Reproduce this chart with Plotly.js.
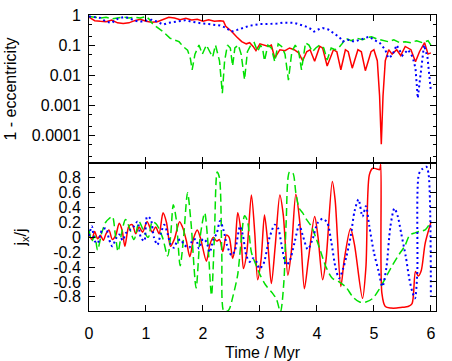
<!DOCTYPE html>
<html>
<head>
<meta charset="utf-8">
<script src="https://cdn.plot.ly/plotly-3.0.1.min.js"></script>
<style>
  html, body { margin: 0; padding: 0; background: #fff; }
  #chart { width: 452px; height: 361px; }
</style>
</head>
<body>
<div id="chart"></div>
<script>
// ---- top panel: 1 - eccentricity (log) ----
const tRedTop = [0.00,0.05,0.10,0.20,0.30,0.40,0.50,0.60,0.70,0.80,0.90,1.00,1.10,1.20,1.30,1.40,1.50,1.60,1.70,1.80,1.90,2.00,2.10,2.20,2.30,2.36,2.40,2.50,2.59,2.68,2.76,2.82,2.88,2.93,3.00,3.08,3.15,3.20,3.26,3.35,3.44,3.52,3.60,3.68,3.75,3.82,3.88,3.96,4.05,4.10,4.18,4.29,4.35,4.42,4.50,4.55,4.62,4.72,4.78,4.85,4.95,5.00,5.06,5.10,5.13,5.16,5.20,5.26,5.32,5.40,5.47,5.55,5.65,5.73,5.80,5.89,5.95,6.00];
const redTop = [0.85,0.75,0.65,0.62,0.60,0.68,0.55,0.52,0.55,0.65,0.72,0.62,0.58,0.60,0.72,0.85,0.80,0.70,0.78,0.68,0.72,0.62,0.70,0.62,0.65,0.62,0.42,0.29,0.19,0.13,0.11,0.12,0.09,0.065,0.11,0.10,0.09,0.10,0.037,0.07,0.065,0.08,0.07,0.055,0.03,0.06,0.07,0.029,0.09,0.08,0.02,0.07,0.06,0.015,0.07,0.06,0.017,0.07,0.06,0.014,0.06,0.07,0.03,0.002,0.00005,0.002,0.03,0.07,0.05,0.07,0.045,0.09,0.07,0.028,0.06,0.12,0.05,0.055];

const tGreenTop = [0.00,0.10,0.20,0.30,0.40,0.50,0.60,0.70,0.80,0.90,1.00,1.05,1.10,1.18,1.30,1.42,1.50,1.58,1.65,1.73,1.78,1.81,1.86,1.93,1.99,2.06,2.12,2.17,2.22,2.29,2.34,2.38,2.43,2.48,2.52,2.56,2.62,2.67,2.73,2.78,2.84,2.90,2.96,3.01,3.05,3.08,3.14,3.20,3.26,3.32,3.38,3.44,3.50,3.56,3.62,3.68,3.73,3.80,3.86,3.92,3.98,4.05,4.12,4.18,4.25,4.32,4.38,4.45,4.50,4.60,4.70,4.80,4.90,4.96,5.05,5.15,5.25,5.35,5.45,5.55,5.65,5.75,5.85,5.95,6.00];
const greenTop = [0.9,0.85,0.8,0.85,0.75,0.8,0.85,0.8,0.85,0.8,0.9,0.75,0.55,0.41,0.28,0.17,0.15,0.13,0.09,0.068,0.035,0.015,0.05,0.1,0.05,0.1,0.06,0.04,0.1,0.03,0.0025,0.03,0.1,0.08,0.02,0.08,0.1,0.05,0.007,0.06,0.1,0.12,0.06,0.1,0.07,0.03,0.1,0.08,0.028,0.11,0.09,0.05,0.0068,0.06,0.1,0.06,0.015,0.12,0.1,0.06,0.08,0.1,0.08,0.032,0.08,0.07,0.08,0.116,0.17,0.14,0.17,0.15,0.18,0.19,0.16,0.14,0.13,0.15,0.12,0.13,0.12,0.14,0.12,0.14,0.1];

const tBlueTop = [0.00,0.10,0.20,0.30,0.40,0.50,0.60,0.70,0.80,0.90,1.00,1.10,1.20,1.30,1.40,1.50,1.60,1.70,1.80,1.90,2.00,2.10,2.20,2.30,2.40,2.50,2.60,2.70,2.80,2.90,3.00,3.10,3.20,3.30,3.40,3.50,3.60,3.70,3.80,3.90,3.95,4.05,4.10,4.20,4.30,4.40,4.45,4.55,4.65,4.75,4.85,4.92,5.00,5.10,5.20,5.25,5.32,5.40,5.50,5.60,5.68,5.73,5.77,5.82,5.88,5.94,6.00];
const blueTop = [0.9,0.85,0.8,0.6,0.55,0.75,0.85,0.8,0.65,0.6,0.65,0.7,0.6,0.48,0.55,0.6,0.65,0.68,0.6,0.55,0.52,0.5,0.48,0.45,0.38,0.28,0.32,0.38,0.43,0.47,0.5,0.5,0.5,0.52,0.56,0.57,0.55,0.48,0.42,0.34,0.28,0.35,0.37,0.33,0.24,0.18,0.13,0.15,0.13,0.15,0.17,0.19,0.15,0.12,0.07,0.037,0.045,0.1,0.045,0.07,0.04,0.017,0.0017,0.01,0.1,0.04,0.003];

// ---- bottom panel: j_x / j ----
const tRedBot = [0.00,0.05,0.10,0.15,0.20,0.25,0.30,0.35,0.41,0.47,0.53,0.58,0.63,0.70,0.76,0.82,0.88,0.94,1.02,1.11,1.17,1.23,1.30,1.36,1.43,1.50,1.59,1.65,1.71,1.77,1.84,1.90,1.96,2.06,2.12,2.18,2.24,2.29,2.35,2.41,2.46,2.52,2.56,2.61,2.66,2.71,2.77,2.85,2.91,2.96,3.02,3.08,3.14,3.20,3.27,3.35,3.41,3.49,3.55,3.63,3.70,3.78,3.85,3.96,4.02,4.10,4.16,4.27,4.32,4.42,4.48,4.59,4.66,4.80,4.86,4.92,4.98,5.05,5.10,5.12,5.14,5.20,5.30,5.40,5.50,5.60,5.67,5.73,5.78,5.83,5.90,6.00];
const redBot = [0.05,-0.03,0.08,-0.02,0.03,-0.04,0.05,0.10,-0.03,0.03,0.19,0.10,-0.12,0.15,0.17,0.05,0.14,0.07,0.21,0.07,0.14,0.05,0.33,0.20,-0.12,-0.02,0.21,0.12,-0.05,-0.26,0.0,0.1,-0.02,-0.32,-0.1,0.0,-0.05,-0.03,-0.19,0.03,0.0,-0.28,-0.15,0.33,0.12,-0.42,-0.2,0.57,0.05,-0.57,-0.3,0.30,-0.1,-0.62,-0.1,0.57,0.3,-0.51,-0.2,0.58,0.2,-0.69,-0.3,0.28,0.0,-0.57,-0.3,0.75,0.5,-0.66,-0.3,0.12,-0.1,-0.82,-0.4,0.84,0.93,0.92,0.91,0.98,-0.75,-0.93,-0.95,-0.95,-0.94,-0.93,-0.89,-0.46,-0.52,-0.45,-0.08,0.2];

const tGreenBot = [0.00,0.05,0.10,0.15,0.22,0.29,0.35,0.41,0.46,0.51,0.57,0.64,0.70,0.79,0.88,0.95,1.04,1.11,1.18,1.29,1.38,1.43,1.48,1.53,1.60,1.66,1.73,1.79,1.88,1.95,2.03,2.08,2.15,2.20,2.25,2.29,2.33,2.37,2.45,2.53,2.61,2.67,2.73,2.78,2.85,2.92,3.00,3.10,3.22,3.29,3.36,3.42,3.46,3.52,3.58,3.63,3.69,3.75,3.81,3.90,3.98,4.07,4.16,4.27,4.39,4.51,4.63,4.75,4.86,4.98,5.10,5.20,5.33,5.45,5.54,5.63,5.72,5.80,5.90,5.97,6.00];
const greenBot = [0.10,-0.05,0.02,-0.17,0.05,0.2,0.25,0.28,0.05,-0.19,0.05,0.24,0.15,-0.03,0.21,0.1,0.0,0.21,0.18,0.0,-0.25,0.0,0.44,0.25,-0.38,0.0,0.6,0.2,-0.68,0.0,0.33,0.0,-0.78,0.0,0.88,0.8,-0.2,-1.0,-0.98,-0.78,-0.5,-0.05,0.29,0.22,-0.2,-0.35,-0.5,-0.64,-0.75,-0.83,-1.0,-0.6,0.2,0.88,0.86,0.6,0.39,0.33,0.25,0.15,0.0,-0.2,-0.4,-0.55,-0.6,-0.67,-0.8,-0.87,-0.87,-0.82,-0.69,-0.55,-0.37,-0.22,-0.12,0.03,0.06,0.08,0.1,0.17,0.21];

const tBlueBot = [0.00,0.05,0.10,0.15,0.23,0.30,0.35,0.41,0.47,0.53,0.59,0.65,0.72,0.79,0.85,0.91,0.97,1.02,1.08,1.14,1.20,1.26,1.32,1.38,1.43,1.49,1.55,1.61,1.67,1.76,1.82,1.88,1.93,2.00,2.06,2.12,2.18,2.24,2.30,2.36,2.42,2.50,2.56,2.65,2.70,2.76,2.82,2.88,2.94,2.99,3.06,3.17,3.26,3.32,3.38,3.46,3.52,3.61,3.69,3.75,3.84,3.93,4.01,4.10,4.18,4.25,4.33,4.39,4.46,4.52,4.59,4.66,4.73,4.80,4.86,4.92,5.00,5.08,5.15,5.22,5.29,5.36,5.42,5.48,5.56,5.62,5.67,5.72,5.76,5.79,5.85,5.92,5.96,6.00];
const blueBot = [0.02,0.15,-0.05,-0.08,0.10,0.12,-0.02,-0.12,-0.02,0.04,-0.04,0.06,0.1,0.15,0.21,0.0,-0.05,0.28,0.25,0.0,-0.1,0.05,0.17,0.05,-0.09,-0.14,-0.05,-0.03,-0.1,-0.14,-0.03,-0.03,-0.15,-0.02,-0.06,-0.2,-0.03,0.05,0.22,0.1,-0.1,-0.24,-0.18,0.15,0.03,-0.24,-0.33,-0.28,-0.33,-0.42,-0.36,0.0,0.17,0.12,-0.1,-0.37,-0.32,-0.06,0.17,0.03,-0.16,-0.01,0.19,0.25,0.2,-0.05,-0.42,-0.55,-0.42,-0.25,0.0,0.35,0.51,0.28,0.42,0.15,-0.2,-0.45,-0.66,-0.4,0.15,0.39,0.28,0.05,-0.26,-0.55,-0.72,-0.82,-0.5,0.85,0.92,0.95,0.85,-0.8];

const logTickVals = [1, 0.1, 0.01, 0.001, 0.0001];
const logTickText = ['1', '0.1', '0.01', '0.001', '0.0001'];
const logMinorVals = [0.5, 0.2, 0.05, 0.02, 0.005, 0.002, 0.0005, 0.0002, 0.00005, 0.00002];
const linTickVals = [-0.8, -0.6, -0.4, -0.2, 0, 0.2, 0.4, 0.6, 0.8];
const linTickText = ['-0.8', '-0.6', '-0.4', '-0.2', '0', '0.2', '0.4', '0.6', '0.8'];
const timeTicks = [0, 1, 2, 3, 4, 5, 6];
const timeTickText = ['0', '1', '2', '3', '4', '5', '6'];

const RED = '#ff0000', GREEN = '#00e000', BLUE = '#0000ff';
const FONT = 'Liberation Sans, Arial, Helvetica, sans-serif';

function line(x, y, color, dash, width, xa, ya, shape) {
    return {
        x: x, y: y, xaxis: xa, yaxis: ya,
        type: 'scatter', mode: 'lines', hoverinfo: 'skip',
        line: { color: color, dash: dash, width: width, shape: shape || 'linear', smoothing: 0.8 }
    };
}

const traces = [
    line(tRedTop, redTop, RED, 'solid', 1.5, 'x', 'y'),
    line(tGreenTop, greenTop, GREEN, '8px,4px', 1.5, 'x', 'y'),
    line(tBlueTop, blueTop, BLUE, '2px,3px', 2, 'x', 'y'),
    line(tRedBot, redBot, RED, 'solid', 1.5, 'x2', 'y2', 'spline'),
    line(tGreenBot, greenBot, GREEN, '8px,4px', 1.5, 'x2', 'y2', 'spline'),
    line(tBlueBot, blueBot, BLUE, '2px,3px', 2, 'x2', 'y2', 'spline')
];

const axisBase = {
    showline: true, linecolor: '#000', linewidth: 1, mirror: 'ticks',
    ticks: 'inside', ticklen: 6, tickcolor: '#000', tickwidth: 1,
    showgrid: false, zeroline: false,
    tickfont: { family: FONT, size: 16, color: '#000' }
};

const layout = {
    width: 452, height: 361,
    margin: { l: 89, r: 16, t: 15, b: 50 },
    paper_bgcolor: '#fff', plot_bgcolor: '#fff',
    showlegend: false,
    font: { family: FONT, size: 16, color: '#000' },
    xaxis: Object.assign({}, axisBase, {
        anchor: 'y', domain: [0, 1], range: [0, 6.09],
        tickmode: 'array', tickvals: timeTicks, showticklabels: false, matches: 'x2'
    }),
    yaxis: Object.assign({}, axisBase, {
        anchor: 'x', domain: [0.5, 1], type: 'log', range: [-4.93, 0.002],
        tickmode: 'array', tickvals: logTickVals, ticktext: logTickText,
        ticklabelstandoff: 4,
        minor: { tickmode: 'array', tickvals: logMinorVals, ticks: 'inside', ticklen: 3, tickcolor: '#000' },
        title: { text: '1 - eccentricity', font: { family: FONT, size: 16 }, standoff: 11 }
    }),
    xaxis2: Object.assign({}, axisBase, {
        anchor: 'y2', domain: [0, 1], range: [0, 6.09],
        tickmode: 'array', tickvals: timeTicks, ticktext: timeTickText,
        ticklabelstandoff: 8,
        title: { text: 'Time / Myr', font: { family: FONT, size: 16 }, standoff: 8 }
    }),
    yaxis2: Object.assign({}, axisBase, {
        anchor: 'x2', domain: [0, 0.5], range: [-0.99, 1.0],
        tickmode: 'array', tickvals: linTickVals, ticktext: linTickText,
        ticklabelstandoff: 4,
        title: { text: 'j<sub>x</sub>/j', font: { family: FONT, size: 16 }, standoff: 22 }
    })
};

Plotly.newPlot('chart', traces, layout, { displayModeBar: false, staticPlot: true });
</script>
</body>
</html>
